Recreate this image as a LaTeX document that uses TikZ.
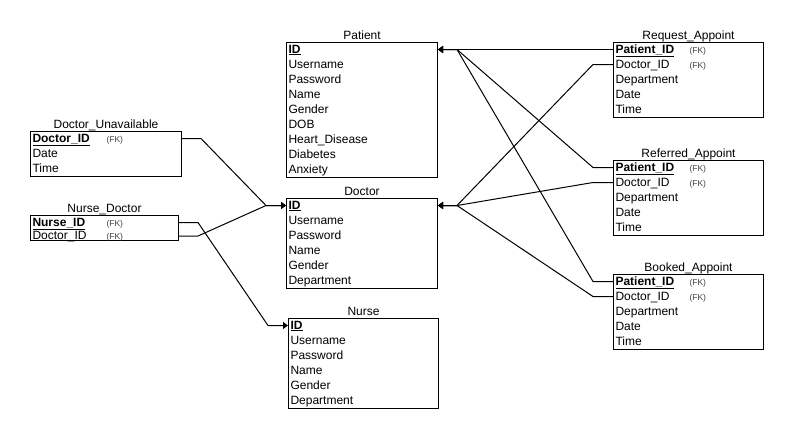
\documentclass[tikz,border=0pt]{standalone}
\usepackage{fontspec}
\setmainfont{Liberation Sans}
\usepackage{tikz}
\usetikzlibrary{calc}
\usetikzlibrary{positioning}
\usetikzlibrary{arrows.meta}
\tikzstyle{relarrow}= [line width=1pt, -{Triangle[length=5pt,width=7pt]}]
\newcommand{\pk}[1]{\textbf{\underline{#1}}}
\newcommand{\fk}[1]{\makebox[74pt][l]{#1}{\fontsize{8.5}{9}\selectfont\color{black!75}(FK)}}

\begin{document}
\begin{tikzpicture}[
		x=1pt, y=-1pt,
		label distance=2pt,
    table/.style={
    draw, line width=1pt, anchor=north west, align=left,
    inner xsep=2pt, inner ysep=0pt, text height=10.5pt,
    font=\fontsize{12}{15}\selectfont,
    },
    title/.style={font=\fontsize{12}{14}\selectfont, inner sep=0pt, text depth=0pt}
	]
  \useasboundingbox (0,0) rectangle (789,434);

  % centre column
  \node[table,text width=147pt,text depth=124.5pt,label={[title]above:Patient}] (patient) at (286,42)
    {\pk{ID}\\Username\\Password\\Name\\Gender\\DOB\\Heart\_Disease\\Diabetes\\Anxiety};
  \node[table,text width=147pt,text depth=79.5pt,label={[title]above:Doctor}] (doctor) at (286,198)
    {\pk{ID}\\Username\\Password\\Name\\Gender\\Department};
  \node[table,text width=146pt,text depth=79.5pt,label={[title]above:Nurse}] (nurse) at (288,318)
    {\pk{ID}\\Username\\Password\\Name\\Gender\\Department};

  % left column
  \node[table,text width=147pt,text depth=34.5pt,label={[title]above:Doctor\_Unavailable}] (docunav) at (30,131)
    {\fk{\pk{Doctor\_ID}}\\Date\\Time};
  \node[table,text width=144pt,text depth=14.5pt,font=\fontsize{12}{13.5}\selectfont,label={[title]above:Nurse\_Doctor}] (nursedoc) at (30,215)
    {\fk{\pk{Nurse\_ID}}\\\fk{Doctor\_ID}};

  % right column
  \node[table,text width=146pt,text depth=64.5pt,label={[title]above:Request\_Appoint}] (reqapp) at (613,42)
    {\fk{\pk{Patient\_ID}}\\\fk{Doctor\_ID}\\Department\\Date\\Time};
  \node[table,text width=146pt,text depth=64.5pt,label={[title]above:Referred\_Appoint}] (refapp) at (613,160)
    {\fk{\pk{Patient\_ID}}\\\fk{Doctor\_ID}\\Department\\Date\\Time};
  \node[table,text width=146pt,text depth=64.5pt,label={[title]above:Booked\_Appoint}] (bookapp) at (613,274)
    {\fk{\pk{Patient\_ID}}\\\fk{Doctor\_ID}\\Department\\Date\\Time};

  % patient keys
  \draw[relarrow] ($(reqapp.north west)+(0,7.5)$) -- ($(patient.north east)+(0,7.5)$);
  \draw[relarrow] ($(refapp.north west)+(0,7.5)$) -- ++(-20,0) -- ($(patient.north east)+(19,7.5)$) -- ($(patient.north east)+(0,7.5)$);
  \draw[relarrow] ($(bookapp.north west)+(0,7.5)$) -- ++(-20,0) -- ($(patient.north east)+(19,7.5)$) -- ($(patient.north east)+(0,7.5)$);
  % doctor keys
  \draw[relarrow] ($(reqapp.north west)+(0,22.5)$) -- ++(-20,0) -- ($(doctor.north east)+(19,7.5)$) -- ($(doctor.north east)+(0,7.5)$);
  \draw[relarrow] ($(refapp.north west)+(0,22.5)$) -- ++(-20,0) -- ($(doctor.north east)+(19,7.5)$) -- ($(doctor.north east)+(0,7.5)$);
  \draw[relarrow] ($(bookapp.north west)+(0,22.5)$) -- ++(-20,0) -- ($(doctor.north east)+(19,7.5)$) -- ($(doctor.north east)+(0,7.5)$);
  \draw[relarrow] ($(docunav.north east)+(0,7.5)$) -- ++(19,0) -- ($(doctor.north west)+(-20,7.5)$) -- ($(doctor.north west)+(0,7.5)$);
  \draw[relarrow] ($(nursedoc.north east)+(0,21)$) -- ++(19,0) -- ($(doctor.north west)+(-20,7.5)$) -- ($(doctor.north west)+(0,7.5)$);
  % nurse key
  \draw[relarrow] ($(nursedoc.north east)+(0,7.5)$) -- ++(19,0) -- ($(nurse.north west)+(-20,7.5)$) -- ($(nurse.north west)+(0,7.5)$);
\end{tikzpicture}
\end{document}
